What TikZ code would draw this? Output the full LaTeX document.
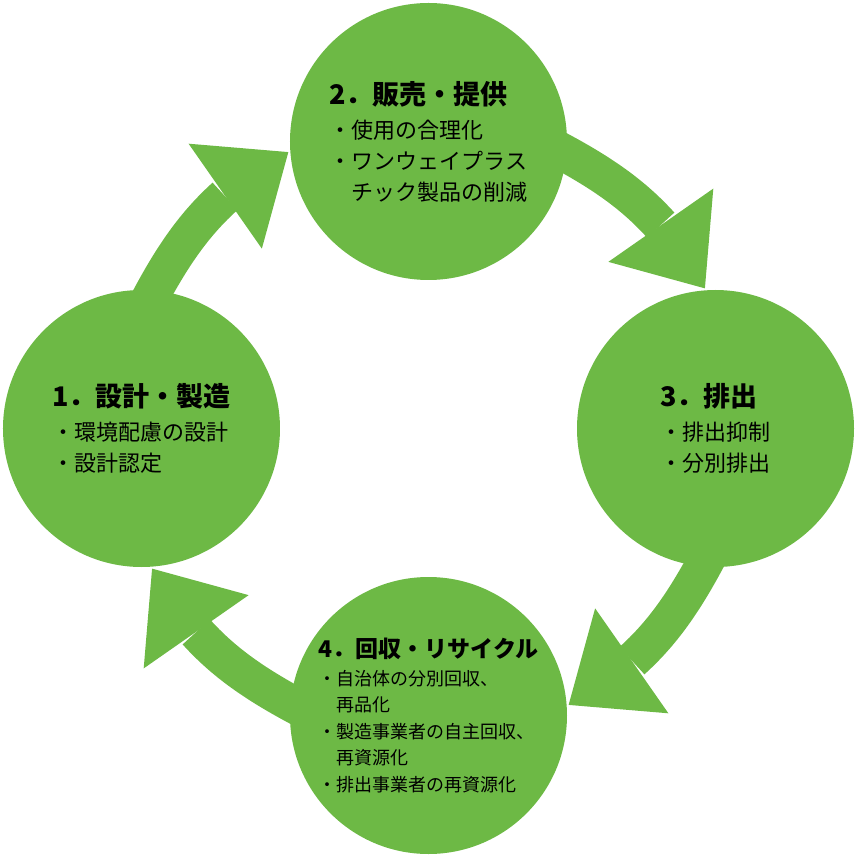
\documentclass[tikz,border=0pt]{standalone}
\usepackage{fontspec}
\newfontfamily\jp{Noto Sans CJK JP}
\usetikzlibrary{arrows.meta,bending,backgrounds}
\definecolor{leaf}{RGB}{109,185,69}
\tikzset{
  stage/.style={circle,fill=leaf,minimum size=277pt,inner sep=0pt,align=left,
    font=\jp\fontsize{22}{31}\selectfont},
  flow/.style={leaf,line width=37pt,shorten <=-30pt,shorten >=2pt,
    -{Triangle[width=128pt,length=77pt,line width=0pt]}}
}
\newcommand\stagetitle[2][27]{{\fontsize{#1}{#1}\selectfont\bfseries #2}}

\begin{document}
\begin{tikzpicture}[x=1pt,y=1pt]
  \useasboundingbox (-428.5,-428.5) rectangle (428.5,428.5);
  \node[stage] (design) at (180:287)
    {\stagetitle{1．設計・製造}\\[3pt]・環境配慮の設計\\・設計認定};
  \node[stage] (sale) at (90:287)
    {\stagetitle{2．販売・提供}\\[3pt]・使用の合理化\\・ワンウェイプラス\\　チック製品の削減};
  \node[stage] (disposal) at (0:287)
    {\stagetitle{3．排出}\\[3pt]・排出抑制\\・分別排出};
  \node[stage,font=\jp\fontsize{18}{26.5}\selectfont] (recycle) at (270:287)
    {\stagetitle[23]{4．回収・リサイクル}\\[1pt]・自治体の分別回収、\\　再品化\\・製造事業者の自主回収、\\　再資源化\\・排出事業者の再資源化};
  \begin{scope}[on background layer]
    \draw[flow] (design.85) to[out=63.4,in=206.9,looseness=0.86] (sale.184);
    \draw[flow] (sale.355) to[out=-26.6,in=116.9,looseness=0.86] (disposal.94);
    \draw[flow] (disposal.265) to[out=243.4,in=26.9,looseness=0.86] (recycle.4);
    \draw[flow] (recycle.175) to[out=153.4,in=296.9,looseness=0.86] (design.274);
  \end{scope}
\end{tikzpicture}
\end{document}
